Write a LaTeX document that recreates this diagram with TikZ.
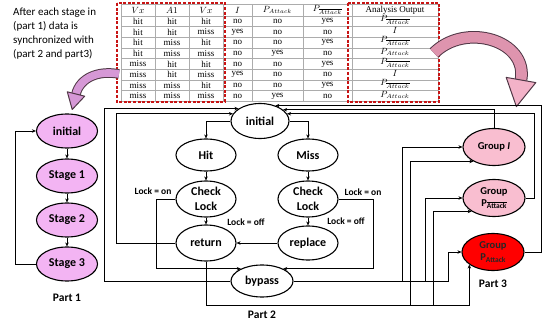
\documentclass[tikz,border=0pt]{standalone}
\usepackage{fontspec}
\setmainfont{Carlito}
\newfontfamily\tabfont{Liberation Serif}
\usetikzlibrary{arrows.meta,shapes.geometric,calc}
\definecolor{pone}{RGB}{243,180,243}
\definecolor{pthree}{RGB}{249,190,208}
\definecolor{gred}{RGB}{255,0,0}
\definecolor{plumarrow}{RGB}{214,152,214}
\definecolor{rosearrow}{RGB}{222,148,174}
\definecolor{rosehead}{RGB}{243,178,200}
\definecolor{arrowedge}{RGB}{80,55,70}
\definecolor{boxred}{RGB}{200,20,20}
\newcommand\attsub{\raisebox{-2.5pt}{\fontsize{7.5}{8}\selectfont Attack}}
\newcommand\attbar{\raisebox{-2.5pt}{\fontsize{7.5}{8}\selectfont$\overline{\hbox{\bfseries Attack}}$}}
\begin{document}
\begin{tikzpicture}[x=1pt,y=-1pt,
  >={Stealth[length=4pt,width=3.5pt]},
  ell/.style={ellipse, draw, line width=1.1pt, inner sep=0pt, align=center},
  pa/.style={ell, fill=pone, minimum width=61pt, minimum height=34pt, font=\bfseries\fontsize{12}{14}\selectfont},
  pb/.style={ell, minimum width=60pt, minimum height=34pt, font=\bfseries\fontsize{12}{15}\selectfont},
  pc/.style={ell, fill=pthree, minimum width=62pt, minimum height=37pt, font=\bfseries\fontsize{10.5}{12}\selectfont},
  conn/.style={line width=0.8pt, ->},
  lbl/.style={font=\bfseries\fontsize{9.5}{10}\selectfont, inner sep=0pt},
  partlbl/.style={font=\bfseries\fontsize{11.5}{13}\selectfont, inner sep=0pt},
  tabline/.style={draw=gray!65, line width=0.9pt},
  cell/.style={font=\tabfont\fontsize{9}{10}\selectfont, inner sep=0pt},
  redbox/.style={draw=boxred, line width=1.4pt, dash pattern=on 3pt off 1.6pt}
]
\useasboundingbox (0,0) rectangle (542,329);

% ---------- note ----------
\node[anchor=north west, align=left, inner sep=0pt, font=\fontsize{11}{14}\selectfont] (note) at (13,8)
  {After each stage in\\(part 1) data is\\synchronized with\\(part 2 and part3)};

% ---------- table ----------
\foreach \x in {121,155,189,223,252,303,352,438} \draw[tabline] (\x,4) -- (\x,101.36);
\draw[tabline] (121,4) -- (438,4);
\foreach \k in {0,...,8} \draw[tabline] (121,16+\k*10.67) -- (438,16+\k*10.67);
\node[cell] (h1) at (138,10) {$Vx$};
\node[cell] (h2) at (172,10) {$A1$};
\node[cell] (h3) at (206,10) {$Vx$};
\node[cell] (h4) at (237.5,10) {$I$};
\node[cell] (h5) at (277.5,10) {$P_{Attack}$};
\node[cell] (h6) at (327.5,10) {$P_{\overline{Attack}}$};
\node[cell] (h7) at (395,10) {Analysis Output};
\foreach \a/\b/\c/\d/\e/\f/\g [count=\r] in {
  hit/hit/hit/no/no/yes/{$P_{\overline{Attack}}$},
  hit/hit/miss/yes/no/no/{$I$},
  hit/miss/hit/no/no/yes/{$P_{\overline{Attack}}$},
  hit/miss/miss/no/yes/no/{$P_{Attack}$},
  miss/hit/hit/no/no/yes/{$P_{\overline{Attack}}$},
  miss/hit/miss/yes/no/no/{$I$},
  miss/miss/hit/no/no/yes/{$P_{\overline{Attack}}$},
  miss/miss/miss/no/yes/no/{$P_{Attack}$}} {
  \pgfmathsetmacro\yy{16+(\r-0.5)*10.67}
  \node[cell] (c\r-1) at (138,\yy) {\a};
  \node[cell] (c\r-2) at (172,\yy) {\b};
  \node[cell] (c\r-3) at (206,\yy) {\c};
  \node[cell] (c\r-4) at (237.5,\yy) {\d};
  \node[cell] (c\r-5) at (277.5,\yy) {\e};
  \node[cell] (c\r-6) at (327.5,\yy) {\f};
  \node[cell, yshift=1.5pt] (c\r-7) at (395,\yy) {\g};
}
\draw[redbox] (117,3) rectangle (225,102);
\draw[redbox] (348,3) rectangle (439,102);

% ---------- pink curved arrows ----------
\draw[line width=9.6pt, arrowedge] (119,74) .. controls (98,70) and (80,78) .. (76,94);
\draw[line width=7.6pt, plumarrow] (119,74) .. controls (98,70) and (80,78) .. (76,94);
\filldraw[fill=plumarrow, draw=arrowedge, line width=1pt, line join=round] (67.3,91.8) -- (72.2,109.5) -- (84.7,96.2) -- cycle;

\draw[line width=12.6pt, arrowedge] (434,53) .. controls (465,22) and (528,40) .. (521,80);
\draw[line width=10.6pt, rosearrow] (434,53) .. controls (465,22) and (528,40) .. (521,80);
\filldraw[fill=rosehead, draw=arrowedge, line width=1pt, line join=round] (506.2,77.4) -- (516.4,106.6) -- (535.8,82.6) -- cycle;

% ---------- helper x positions ----------
\coordinate (x15) at (15,0);
\coordinate (x104) at (104,0);
\coordinate (x116) at (116,0);
\coordinate (x156) at (156,0);
\coordinate (x373) at (373,0);
\coordinate (x402) at (402,0);
\coordinate (x410) at (410,0);
\coordinate (x425) at (425,0);
\coordinate (x433) at (433,0);
\coordinate (x448) at (448,0);
\coordinate (x534) at (534,0);
\coordinate (x541) at (541,0);
\coordinate (rb) at (0,305);

% ---------- Part 1 ----------
\node[pa] (p1i) at (67,131) {initial};
\node[pa] (s1) at (67,176) {Stage 1};
\node[pa] (s2) at (67,220) {Stage 2};
\node[pa] (s3) at (67,264) {Stage 3};
\draw[conn] (p1i.south) -- (s1.north);
\draw[conn] (s1.south) -- (s2.north);
\draw[conn] (s2.south) -- (s3.north);
\draw[conn] (s3.west) -- (x15 |- s3.west) -- (x15 |- p1i.west) -- (p1i.west);
\node[partlbl] (part1) at (67,298) {Part 1};

% ---------- Part 2 ----------
\node[pb, minimum width=58pt, minimum height=35pt] (ini2) at (260,121) {initial};
\node[pb, minimum height=32pt] (hit) at (206,155) {Hit};
\node[pb, minimum height=32pt] (miss) at (308,155) {Miss};
\node[pb, minimum height=36pt] (cl1) at (206,199) {Check\\Lock};
\node[pb, minimum height=36pt] (cl2) at (308,199) {Check\\Lock};
\node[pb, minimum height=36pt] (ret) at (206,243) {return};
\node[pb, minimum height=34pt] (rep) at (308,243) {replace};
\node[pb, minimum width=62pt, minimum height=32pt] (byp) at (262,281) {bypass};

\draw[conn] (ini2.west) -| (hit.north);
\draw[conn] (ini2.east) -| (miss.north);
\draw[conn] (hit.south) -- (cl1.north);
\draw[conn] (miss.south) -- (cl2.north);
\draw[conn] (cl1.south) -- (ret.north);
\draw[conn] (cl2.south) -- (rep.north);
\draw[conn] (rep.west) -- (ret.east);
\draw[conn] (cl1.west) -- (x156 |- cl1.west) -- (x156 |- byp.150) -- (byp.150);
\draw[conn] (cl2.east) -- (x373 |- cl2.east) -- (x373 |- byp.30) -- (byp.30);
\draw[conn] (ret.west) -- (x116 |- ret.west) -- (x116 |- ini2.165) -- (ini2.165);
\draw[conn] (byp.west) -- (x104 |- byp.west) -- (x104 |- ini2.150) -- (ini2.150);

\node[lbl] (lon1) at (153,191) {Lock = on};
\node[lbl] (loff1) at (246,222) {Lock = off};
\node[lbl] (lon2) at (363,192) {Lock = on};
\node[lbl] (loff2) at (346,221) {Lock = off};
\node[partlbl] (part2) at (262,315) {Part 2};

% ---------- Part 3 ----------
\node[pc] (gI) at (494,147) {Group \textit{I}};
\node[pc] (gPb) at (494,198) {Group\\P\attbar};
\node[pc, fill=gred, text=black!85] (gP) at (493,252) {Group\\P\attsub};
\node[partlbl] (part3) at (493,284) {Part 3};

\draw[conn] (byp.east) -- (x402 |- byp.east) -- (x402 |- gI.west) -- (gI.west);
\draw[conn] (byp.east) -- (x425 |- byp.east) -- (x425 |- gPb.west) -- (gPb.west);
\draw[conn] (byp.east) -- (x448 |- byp.east) -- (x448 |- gP.west) -- (gP.west);
\draw[conn] (ret.south) |- (x410 |- rb) -- (x410 |- gI.215) -- (gI.215);
\draw[conn] (ret.south) |- (x433 |- rb) -- (x433 |- gPb.211) -- (gPb.211);
\draw[conn] (ret.south) |- (gP.208 |- rb) -- (gP.208);

\draw[conn] (gI.north) -- (gI.north |- ini2.26) -- (ini2.26);
\draw[conn] (gPb.east) -- (x534 |- gPb.east) -- (x534 |- ini2.15) -- (ini2.15);
\draw[conn] (gP.east) -- (x541 |- gP.east) -- (x541 |- ini2.45) -- (ini2.45);
\end{tikzpicture}
\end{document}
